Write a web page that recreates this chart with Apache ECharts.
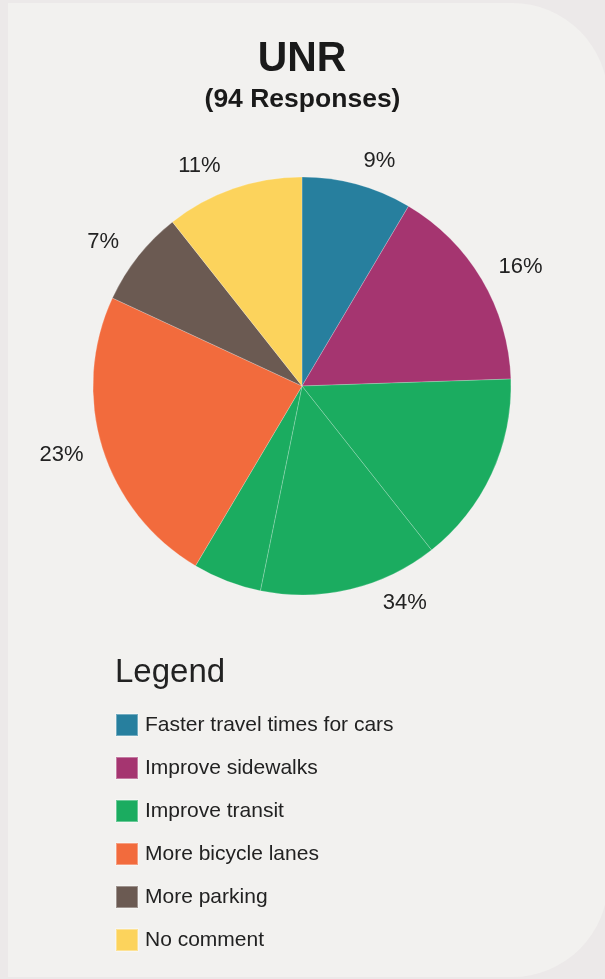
<!DOCTYPE html>
<html>
<head>
<meta charset="utf-8">
<script src="https://cdn.jsdelivr.net/npm/echarts@6/dist/echarts.min.js"></script>
<style>
  html, body { margin: 0; padding: 0; background: #ece9e9; }
  #chart { width: 605px; height: 979px; }
</style>
</head>
<body>
<div id="chart"></div>
<script>
// ---- data ----
const titleText = 'UNR';
const subtitleText = '(94 Responses)';
const legendTitle = 'Legend';
const categories = ['Faster travel times for cars', 'Improve sidewalks', 'Improve transit', 'More bicycle lanes', 'More parking', 'No comment'];
const responses = [8, 15, 32, 22, 7, 10];
// the "Improve transit" wedge is drawn in three pieces in the original
const transitParts = [14, 13, 5];
const colors = ['#277f9e', '#a53570', '#1bac60', '#f26b3d', '#6b5a52', '#fcd35c'];
// small per-label nudges (px) of the percentage text away from its default spot
const labelNudge = [0, -4, 0, -4, 0, 5];

const total = responses.reduce((a, b) => a + b, 0);
const pct = v => Math.round(v / total * 100) + '%';

const pieData = [];
categories.forEach((name, i) => {
  if (name === 'Improve transit') {
    transitParts.forEach((v, j) => {
      const item = { name, value: v, itemStyle: { color: colors[i] } };
      if (j === 1) {
        item.label = { show: true, formatter: pct(responses[i]) };
        item.labelLine = { length: 14, length2: 29 };
      } else {
        item.label = { show: false };
      }
      pieData.push(item);
    });
  } else {
    pieData.push({ name, value: responses[i], itemStyle: { color: colors[i] },
      label: { show: true, formatter: pct(responses[i]), distanceToLabelLine: labelNudge[i] } });
  }
});

const FONT = '"Liberation Sans", Arial, sans-serif';
const chart = echarts.init(document.getElementById('chart'), null, { renderer: 'canvas' });
chart.setOption({
  animation: false,
  backgroundColor: '#ece9e9',
  graphic: [{
    type: 'rect', z: -10, silent: true,
    shape: { x: 8, y: 3, width: 600, height: 974, r: [0, 96, 96, 0] },
    style: { fill: '#f2f1ef' }
  }, {
    type: 'text', silent: true, x: 302, y: 37.5, scaleX: 0.95,
    style: { x: 0, y: 0, text: titleText, align: 'center', verticalAlign: 'top',
      font: 'bold 43px "Liberation Sans", Arial, sans-serif', fill: '#1a1a1a' }
  }],
  title: [
    { text: subtitleText, left: 'center', top: 86.5, padding: 0,
      textStyle: { fontFamily: FONT, fontWeight: 'bold', fontSize: 26.5, color: '#1a1a1a' } },
    { text: legendTitle, left: 115, top: 656, padding: 0,
      textStyle: { fontFamily: FONT, fontWeight: 'normal', fontSize: 33, color: '#222' } }
  ],
  legend: {
    data: categories,
    orient: 'vertical',
    left: 115, top: 713, padding: 0,
    icon: 'rect', itemWidth: 22, itemHeight: 22, itemGap: 19,
    selectedMode: false,
    textStyle: { fontFamily: FONT, fontSize: 21, color: '#222', padding: [0, 0, 0, 2] }
  },
  series: [{
    type: 'pie',
    center: [302, 386],
    radius: 209,
    startAngle: 90,
    clockwise: true,
    avoidLabelOverlap: false,
    silent: true,
    itemStyle: { borderColor: 'rgba(255,255,255,0.35)', borderWidth: 0.6 },
    label: { position: 'outside', fontFamily: FONT, fontSize: 22, color: '#222', distanceToLabelLine: 0 },
    labelLine: { show: false, length: 24, length2: 0 },
    data: pieData
  }]
});
</script>
</body>
</html>
